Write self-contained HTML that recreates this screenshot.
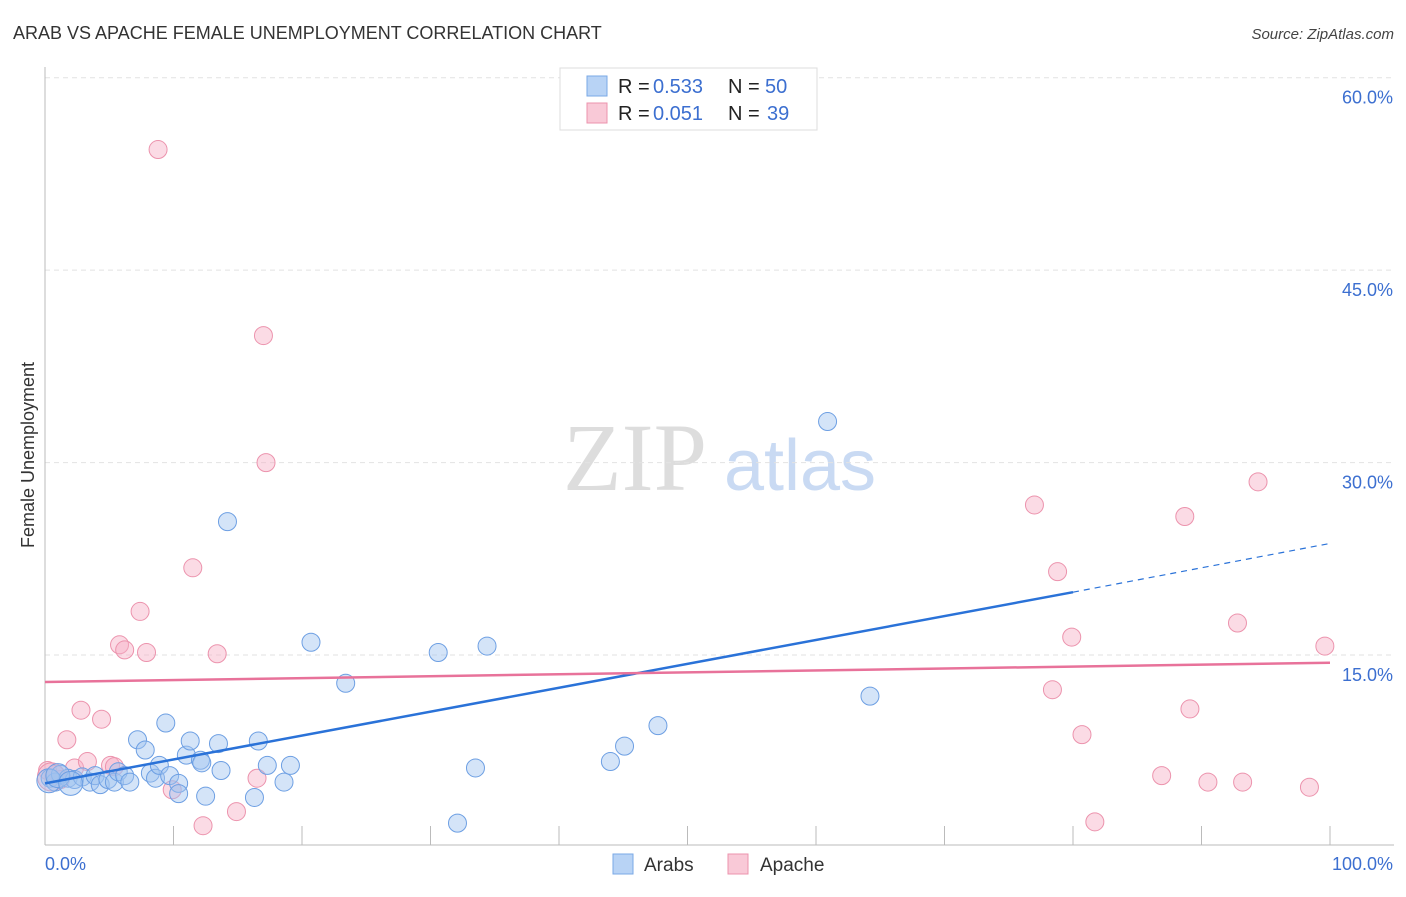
<!DOCTYPE html>
<html><head><meta charset="utf-8"><style>
body{margin:0;background:#fff;font-family:"Liberation Sans",sans-serif;}
svg text{font-family:"Liberation Sans",sans-serif;}
</style></head><body>
<svg id="chart" width="1406" height="892">
<text x="13" y="39" font-size="18" fill="#333">ARAB VS APACHE FEMALE UNEMPLOYMENT CORRELATION CHART</text>
<text x="1394" y="39" font-size="15" fill="#444" text-anchor="end" font-style="italic">Source: ZipAtlas.com</text>
<text x="34" y="455" font-size="18" fill="#333" text-anchor="middle" transform="rotate(-90 34 455)">Female Unemployment</text>
<g><text x="635" y="490" font-size="96" fill="#ddd" text-anchor="middle" style="font-family:'Liberation Serif',serif">ZIP</text><text x="800" y="490" font-size="72" fill="#c9daf3" text-anchor="middle">atlas</text></g>
<g id="grid"></g><g id="axes"></g><g id="pts"></g><g id="trend"></g>
<g>
<rect x="560" y="68" width="257" height="62" fill="#fff" stroke="#ddd"/>
<rect x="587" y="76" width="20" height="20" fill="#b8d3f5" stroke="#7aa8e6"/>
<text x="618" y="93" font-size="20" fill="#222">R =</text><text x="653" y="93" font-size="20" fill="#3c6fd0">0.533</text>
<text x="728" y="93" font-size="20" fill="#222">N =</text><text x="765" y="93" font-size="20" fill="#3c6fd0">50</text>
<rect x="587" y="103" width="20" height="20" fill="#f9c9d7" stroke="#ec93ad"/>
<text x="618" y="120" font-size="20" fill="#222">R =</text><text x="653" y="120" font-size="20" fill="#3c6fd0">0.051</text>
<text x="728" y="120" font-size="20" fill="#222">N =</text><text x="767" y="120" font-size="20" fill="#3c6fd0">39</text>
</g>
<g>
<rect x="613" y="854" width="20" height="20" fill="#b8d3f5" stroke="#7aa8e6"/><text x="644" y="871" font-size="19" fill="#333">Arabs</text>
<rect x="728" y="854" width="20" height="20" fill="#f9c9d7" stroke="#ec93ad"/><text x="760" y="871" font-size="19" fill="#333">Apache</text>
</g>
</svg>
<script>
const blueX=[0.4,0.8,1.2,1.8,2.3,2.9,3.5,3.9,4.3,4.9,5.4,5.7,6.2,6.6,7.2,7.8,8.2,8.6,8.9,9.4,9.7,10.4,10.4,11.0,11.3,12.1,12.2,12.5,13.5,13.7,14.2,16.3,16.6,17.3,18.6,19.1,20.7,23.4,30.6,32.1,33.5,34.4,44.0,45.1,47.7,60.9,64.2,0.3,1.0,2.0];
const blueY=[5.4,5.1,5.7,5.4,5.3,5.5,5.1,5.6,4.9,5.3,5.1,5.9,5.6,5.1,8.4,7.6,5.8,5.4,6.4,9.7,5.6,5.0,4.2,7.2,8.3,6.8,6.6,4.0,8.1,6.0,25.4,3.9,8.3,6.4,5.1,6.4,16.0,12.8,15.2,1.9,6.2,15.7,6.7,7.9,9.5,33.2,11.8,5.2,5.6,5.0];
const pinkX=[0.2,0.8,1.2,1.7,2.3,2.8,3.3,4.4,5.1,5.4,5.8,6.2,7.4,7.9,8.8,9.9,11.5,12.3,13.4,14.9,16.5,17.0,17.2,77.0,78.4,78.8,79.9,80.7,81.7,86.9,88.7,89.1,90.5,92.8,93.2,94.4,98.4,99.6,0.5];
const pinkY=[6.0,5.7,5.3,8.4,6.2,10.7,6.7,10.0,6.4,6.3,15.8,15.4,18.4,15.2,54.4,4.5,21.8,1.7,15.1,2.8,5.4,39.9,30.0,26.7,12.3,21.5,16.4,8.8,2.0,5.6,25.8,10.8,5.1,17.5,5.1,28.5,4.7,15.7,5.5];
const yTicks=[15,30,45,60];
const yTickLabels=["15.0%","30.0%","45.0%","60.0%"];
const blueTrend=[5.0,19.9,23.7]; // at x=0, 80, 100
const pinkTrend=[12.9,14.4];
const NS="http://www.w3.org/2000/svg";
const X=v=>45+v*12.85, Y=v=>847.5-v*12.83;
function mk(t,a,p){const e=document.createElementNS(NS,t);for(const k in a)e.setAttribute(k,a[k]);p.appendChild(e);return e;}
const grid=document.getElementById('grid'),axes=document.getElementById('axes'),pts=document.getElementById('pts'),tr=document.getElementById('trend');
yTicks.forEach((t,i)=>{
 const l=mk('line',{x1:45,x2:1394,y1:Y(t),y2:Y(t),stroke:'#e2e2e2','stroke-dasharray':'5,4'},grid);
 
 
 const tx=mk('text',{x:1393,y:Y(t)+26,'font-size':18,fill:'#3c6fd0','text-anchor':'end'},grid);tx.textContent=yTickLabels[i];
 
 
});
let a=mk('line',{x1:45,x2:45,y1:67,y2:845,stroke:'#bbb'},axes);


a=mk('line',{x1:45,x2:1394,y1:845,y2:845,stroke:'#bbb'},axes);


for(let i=1;i<=10;i++){const t=mk('line',{x1:X(i*10),x2:X(i*10),y1:826,y2:845,stroke:'#bbb'},axes);
 
 }
let t1=mk('text',{x:45,y:870,'font-size':18,fill:'#3c6fd0'},axes);t1.textContent='0.0%';


t1=mk('text',{x:1393,y:870,'font-size':18,fill:'#3c6fd0','text-anchor':'end'},axes);t1.textContent='100.0%';


pinkX.forEach((x,i)=>{const c=mk('circle',{cx:X(x),cy:Y(pinkY[i]),r:i==38?14:9,fill:'rgba(246,175,197,0.45)',stroke:'#ec93ad','stroke-width':1},pts);
 
 });
blueX.forEach((x,i)=>{const c=mk('circle',{cx:X(x),cy:Y(blueY[i]),r:i>=47?12:9,fill:'rgba(160,196,240,0.45)',stroke:'#6d9fe3','stroke-width':1},pts);
 
 });
let l=mk('line',{x1:X(0),y1:Y(blueTrend[0]),x2:X(80),y2:Y(blueTrend[1]),stroke:'#2a72d8','stroke-width':2.5},tr);


l=mk('line',{x1:X(80),y1:Y(blueTrend[1]),x2:X(100),y2:Y(blueTrend[2]),stroke:'#2a72d8','stroke-width':1.2,'stroke-dasharray':'6,5'},tr);


l=mk('line',{x1:X(0),y1:Y(pinkTrend[0]),x2:X(100),y2:Y(pinkTrend[1]),stroke:'#e8729a','stroke-width':2.5},tr);


</script>
</body></html>
